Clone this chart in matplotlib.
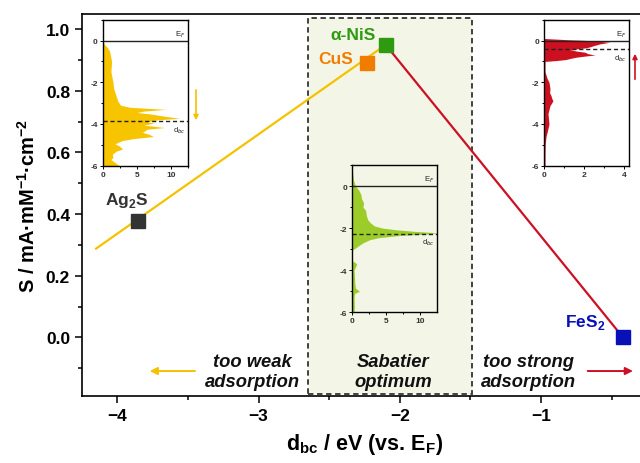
import matplotlib
matplotlib.use("Agg")
import matplotlib.pyplot as plt
from matplotlib.patches import Rectangle
from matplotlib.ticker import MultipleLocator

plt.rcParams['font.family'] = ['Liberation Sans', 'DejaVu Sans']
plt.rcParams['mathtext.fontset'] = 'custom'
plt.rcParams['mathtext.rm'] = 'Liberation Sans'
plt.rcParams['mathtext.bf'] = 'Liberation Sans:bold'

# --- main data: d-band centre vs sensitivity ---
names = ['Ag$_\\mathbf{2}$S', 'CuS', 'α-NiS', 'FeS$_\\mathbf{2}$']
d_bc = [-3.85, -2.23, -2.10, -0.42]
sens = [0.378, 0.890, 0.949, 0.0]
colors = ['#333333', '#f07d00', '#2e9a10', '#0a10b8']

weak_line_x = [-4.15, -2.10]
weak_line_y = [0.288, 0.949]
strong_line_x = [-2.10, -0.42]
strong_line_y = [0.949, 0.0]

# --- projected DOS for the insets (energy in eV vs E_F) ---
ag2s_E = [1.0, 0.0, -0.2, -0.3, -0.5, -1.0, -1.5, -2.0, -2.3, -2.6, -2.9, -3.1, -3.2,
          -3.3, -3.38, -3.45, -3.52, -3.6, -3.73, -3.8, -3.9, -3.96, -4.05, -4.17,
          -4.25, -4.4, -4.5, -4.6, -4.7, -4.8, -4.95, -5.05, -5.2, -5.3, -5.45,
          -5.6, -5.7, -5.85, -6.0]
ag2s_dos = [0.0, 0.0, 0.3, 0.6, 1.0, 1.3, 1.2, 1.5, 1.6, 1.9, 2.2, 2.6, 4.0,
            9.2, 6.0, 5.0, 7.0, 8.5, 11.2, 8.0, 6.5, 7.5, 6.0, 9.0,
            6.5, 5.8, 6.8, 7.4, 4.5, 2.8, 1.8, 2.4, 2.9, 2.0, 1.4,
            1.5, 1.2, 1.8, 2.4]

nis_E = [1.0, 0.6, 0.3, 0.0, -0.2, -0.4, -0.6, -0.8, -1.0, -1.16, -1.4, -1.6,
         -1.75, -1.9, -2.0, -2.08, -2.15, -2.22, -2.28, -2.35, -2.45, -2.55,
         -2.7, -2.85, -2.95, -3.05, -3.55, -3.62, -3.7, -3.85, -4.0, -4.2,
         -4.6, -4.85, -5.0, -5.1, -5.3, -5.7, -6.0]
nis_dos = [0.0, 0.1, 0.2, 0.5, 1.0, 1.3, 1.4, 1.7, 1.6, 2.0, 2.1, 2.3,
           2.7, 3.3, 4.5, 6.5, 9.0, 12.5, 11.0, 7.0, 4.0, 2.6,
           1.6, 0.9, 0.5, 0.0, 0.0, 0.4, 0.7, 0.5, 0.3, 0.35,
           0.4, 0.5, 1.1, 0.4, 0.3, 0.35, 0.3]

fes2_E = [1.0, 0.1, 0.04, 0.0, -0.08, -0.16, -0.24, -0.3, -0.35, -0.43, -0.5,
          -0.56, -0.63, -0.69, -0.75, -0.8, -0.86, -0.91, -0.96, -1.0, -1.5,
          -1.8, -2.0, -2.3, -2.5, -2.64, -2.8, -2.88, -3.0, -3.12, -3.5, -4.0,
          -4.3, -4.6, -5.0, -5.5, -6.0]
fes2_dos = [0.0, 0.0, 1.2, 2.3, 3.3, 2.8, 2.5, 2.3, 2.1, 1.3, 1.6,
            2.05, 2.2, 2.55, 2.0, 1.6, 1.3, 1.1, 0.6, 0.05, 0.05,
            0.15, 0.25, 0.3, 0.28, 0.35, 0.4, 0.45, 0.38, 0.3, 0.2, 0.25,
            0.18, 0.1, 0.06, 0.05, 0.05]

fig = plt.figure(figsize=(6.4, 4.64), dpi=100)
ax = fig.add_axes([0.128, 0.1444, 0.883, 0.8233])

ax.set_xlim(-4.25, -0.25)
ax.set_ylim(-0.19, 1.049)

# Sabatier region
ax.add_patch(Rectangle((-2.65, -0.182), 1.16, 1.218, facecolor='#f3f6e6',
                       edgecolor='#333333', linestyle=(0, (3, 2)), lw=1.3, zorder=0))

ax.plot(weak_line_x, weak_line_y, color='#f5c200', lw=1.6, zorder=2)
ax.plot(strong_line_x, strong_line_y, color='#cc1025', lw=1.6, zorder=2)
for x, y, c in zip(d_bc, sens, colors):
    ax.plot(x, y, 's', color=c, markersize=10, zorder=3)

label_pos = [(-3.936, 0.448), (-2.457, 0.906), (-2.33, 0.984), (-0.688, 0.052)]
for (lx, ly), name, c in zip(label_pos, names, colors):
    ax.text(lx, ly, name, color=c, fontsize=12.5, fontweight='bold',
            ha='center', va='center')

txt = dict(fontsize=13.2, fontweight='bold', fontstyle='italic', ha='center',
           va='center', linespacing=1.25, color='#111111')
ax.text(-3.045, -0.11, 'too weak\nadsorption', **txt)
ax.text(-2.047, -0.11, 'Sabatier\noptimum', **txt)
ax.text(-1.09, -0.11, 'too strong\nadsorption', **txt)

ax.annotate('', xy=(-3.79, -0.109), xytext=(-3.43, -0.109),
            arrowprops=dict(arrowstyle='-|>', color='#f5c200', lw=1.4, mutation_scale=11))
ax.annotate('', xy=(-0.33, -0.109), xytext=(-0.69, -0.109),
            arrowprops=dict(arrowstyle='-|>', color='#cc1025', lw=1.4, mutation_scale=11))

ax.xaxis.set_major_locator(MultipleLocator(1))
ax.xaxis.set_minor_locator(MultipleLocator(0.5))
ax.yaxis.set_major_locator(MultipleLocator(0.2))
ax.yaxis.set_minor_locator(MultipleLocator(0.1))
ax.set_yticks([0.0, 0.2, 0.4, 0.6, 0.8, 1.0])
ax.tick_params(which='both', direction='out', width=1.1)
ax.tick_params(which='major', length=5, labelsize=12.5)
ax.tick_params(which='minor', length=3)
for lab in ax.get_xticklabels() + ax.get_yticklabels():
    lab.set_fontweight('bold')
for s in ax.spines.values():
    s.set_linewidth(1.2)

ax.set_ylabel('S / mA·mM$^{\\mathbf{-1}}$·cm$^{\\mathbf{-2}}$', fontsize=14.5,
              fontweight='bold', labelpad=5)
ax.set_xlabel('d$_{\\mathbf{bc}}$ / eV (vs. E$_\\mathbf{F}$)', fontsize=15.5,
              fontweight='bold', labelpad=6)


def dos_inset(rect, E, dos, color, xmax, xticks, xminor, dbc, facecolor='white'):
    ins = fig.add_axes(rect)
    ins.set_facecolor(facecolor)
    ins.fill_betweenx(E, 0, dos, color=color, lw=0)
    ins.axhline(0, color='#222222', lw=1.0)
    ins.axhline(dbc, color='#222222', lw=1.0, ls=(0, (3, 2)))
    ins.set_xlim(0, xmax)
    ins.set_ylim(-6, 1)
    ins.set_xticks(xticks)
    ins.xaxis.set_minor_locator(MultipleLocator(xminor))
    ins.set_yticks([0, -2, -4, -6])
    ins.yaxis.set_minor_locator(MultipleLocator(1))
    ins.tick_params(which='both', direction='out', labelsize=6, width=0.7, pad=1)
    ins.tick_params(which='major', length=2.5)
    ins.tick_params(which='minor', length=1.5)
    ins.set_yticklabels(['0', '-2', '-4', '-6'])
    for lab in ins.get_xticklabels() + ins.get_yticklabels():
        lab.set_fontweight('bold')
        lab.set_color('#333333')
    for s in ins.spines.values():
        s.set_linewidth(1.0)
    ins.text(0.97, 0.0 + 0.08, 'E$_F$', fontsize=5.5, ha='right', va='bottom',
             transform=ins.get_yaxis_transform(), color='#222222')
    ins.text(0.97, dbc - 0.15, 'd$_{bc}$', fontsize=5.5, ha='right', va='top',
             transform=ins.get_yaxis_transform(), color='#222222')
    return ins


dos_inset([102.7 / 640, 1 - 166.7 / 464, 85.6 / 640, 146 / 464],
          ag2s_E, ag2s_dos, '#f7c400', 12.5, [0, 5, 10], 2.5, -3.87)
dos_inset([352 / 640, 1 - 313.3 / 464, 84.7 / 640, 147.3 / 464],
          nis_E, nis_dos, '#9ccc2a', 12.4, [0, 5, 10], 2.5, -2.27, facecolor='none')
dos_inset([544 / 640, 1 - 166.7 / 464, 85.3 / 640, 146 / 464],
          fes2_E, fes2_dos, '#cc1020', 4.27, [0, 2, 4], 1, -0.40)

ax.annotate('', xy=(196 / 640, 1 - 124 / 464), xytext=(196 / 640, 1 - 88 / 464),
            xycoords='figure fraction', textcoords='figure fraction',
            arrowprops=dict(arrowstyle='-|>', color='#f5c200', lw=1.2, mutation_scale=7))
ax.annotate('', xy=(635 / 640, 1 - 52 / 464), xytext=(635 / 640, 1 - 83 / 464),
            xycoords='figure fraction', textcoords='figure fraction',
            arrowprops=dict(arrowstyle='-|>', color='#cc1025', lw=1.2, mutation_scale=7))

fig.savefig('out.png', dpi=100)
